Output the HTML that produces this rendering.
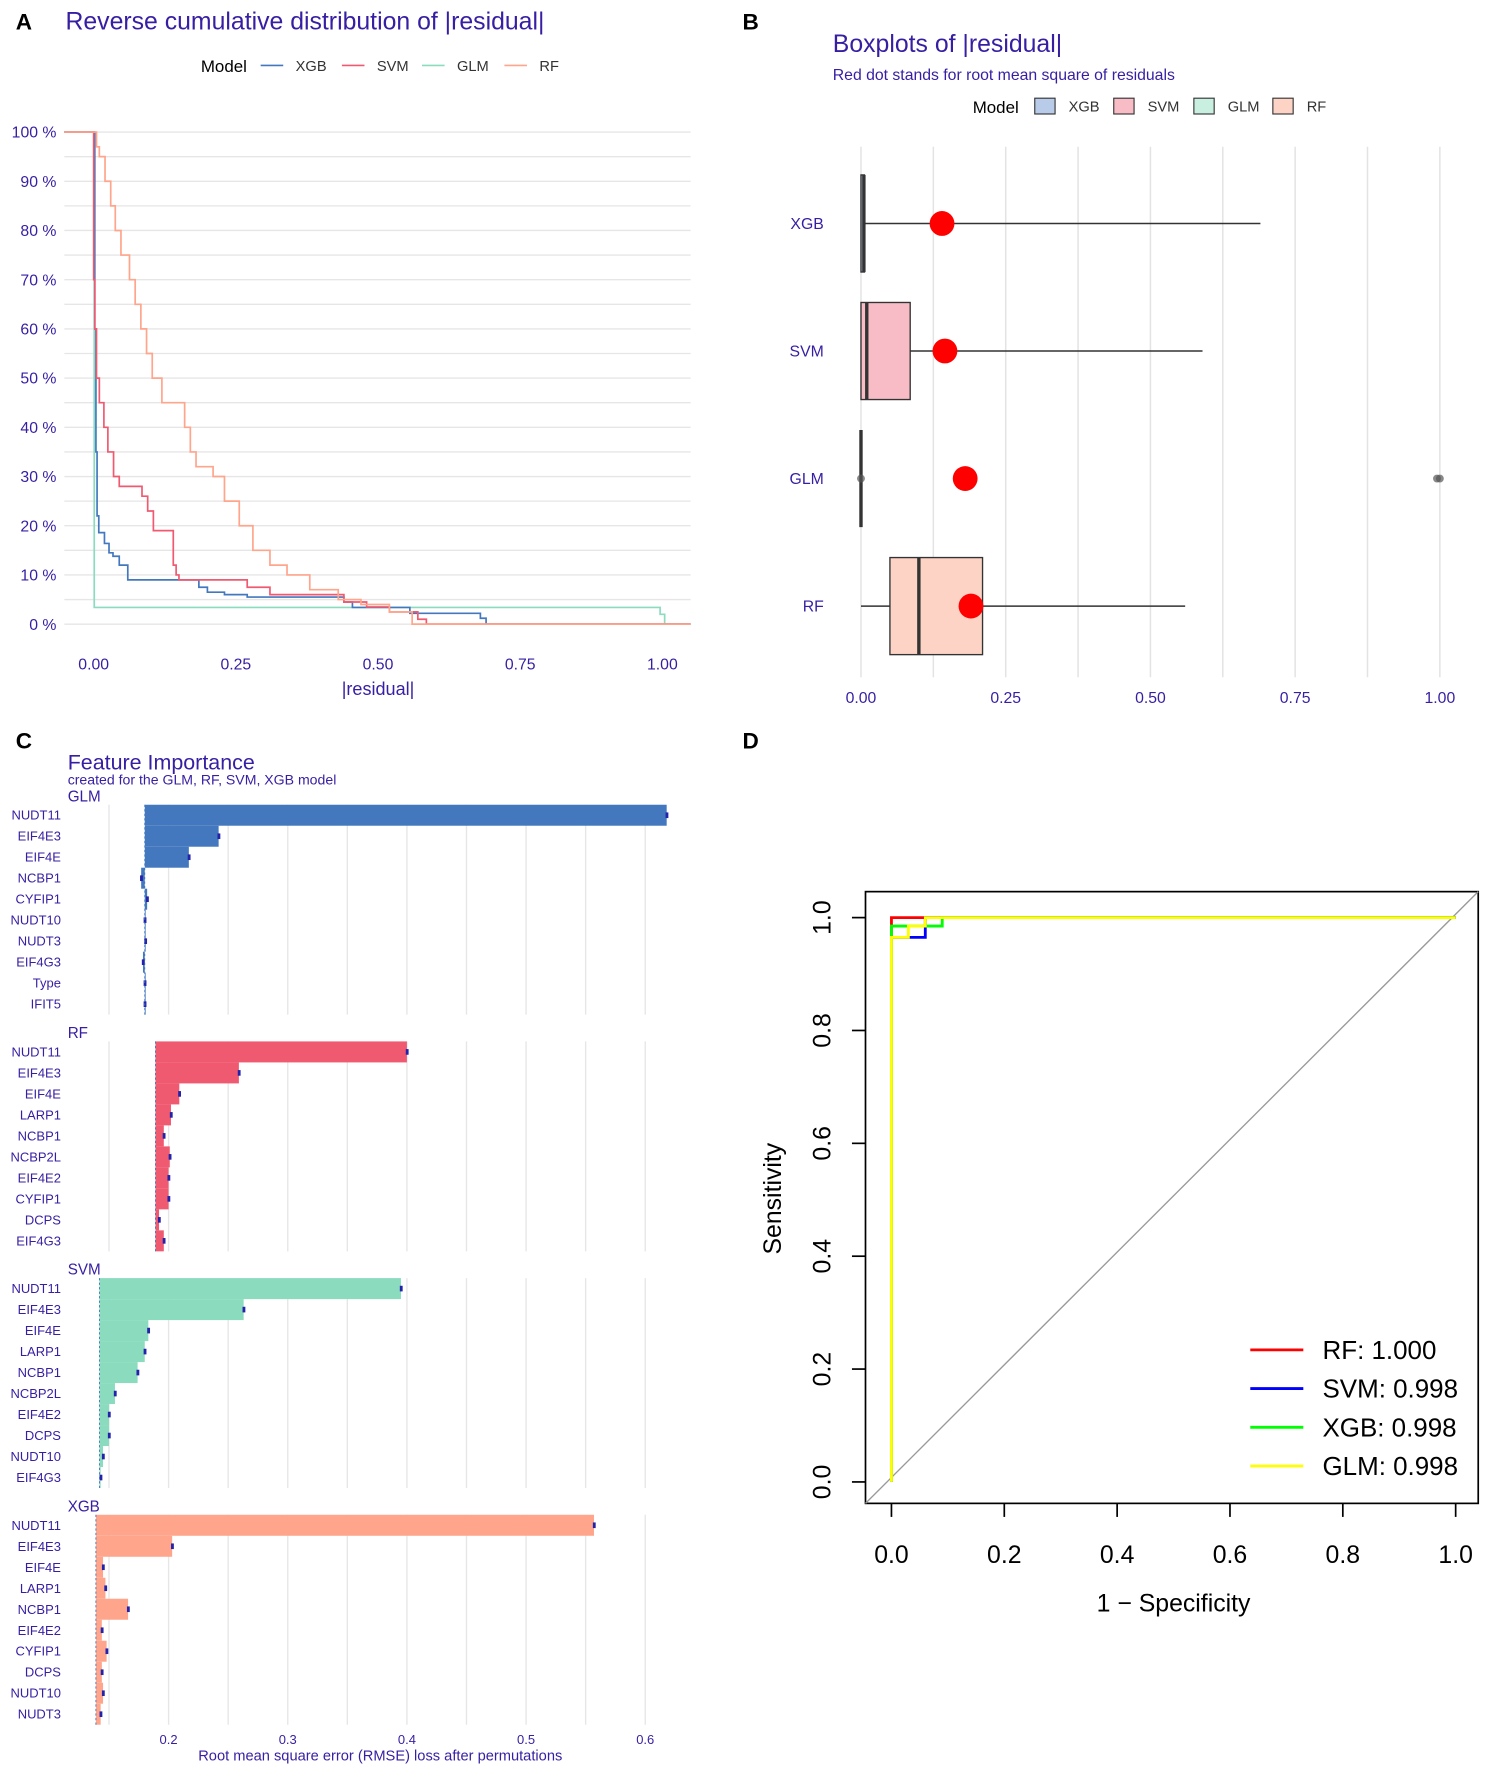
<!DOCTYPE html>
<html><head><meta charset="utf-8"><style>
html,body{margin:0;padding:0;background:#fff;}
svg{display:block;font-family:"Liberation Sans",sans-serif;}
</style></head><body>
<svg id="fig" width="1485" height="1772" viewBox="0 0 1316 1570" preserveAspectRatio="none" xmlns="http://www.w3.org/2000/svg">
<rect width="1316" height="1570" fill="#fff"/>
<g font-weight="bold" font-size="20" fill="#000">
<text x="14" y="26">A</text>
<text x="658" y="26">B</text>
<text x="14" y="663">C</text>
<text x="658" y="663">D</text>
</g>
<g id="pa"></g>
<g id="pb"></g>
<g id="pc"></g>
<g id="pd"></g>
</svg>
<script>
// ---------- data ----------
const models = ['XGB','SVM','GLM','RF'];
const modelColors = ['#4378bf','#f05a71','#8bdcbe','#ffa58c'];
// Panel A: reverse ECDF steps (x = residual breakpoint, y = percent after breakpoint)
const xgbX = [0,0.002,0.004,0.006,0.009,0.019,0.027,0.034,0.045,0.06,0.185,0.2,0.23,0.27,0.44,0.455,0.556,0.68,0.69];
const xgbY = [100,60,35,22,18.6,16.4,14.5,13.8,12,9,7.5,6.5,6,5.5,4.5,3.4,2.2,1.2,0];
const svmX = [0,0.002,0.005,0.01,0.018,0.025,0.035,0.045,0.085,0.095,0.105,0.14,0.145,0.15,0.27,0.31,0.44,0.48,0.52,0.57,0.585];
const svmY = [70,60,50,45,40,35,30,28,26,23,19,12,10,9,7.5,6,4.5,3.5,2.5,1,0];
const glmX = [0,0.001,0.996,1.004];
const glmY = [100,3.4,2,0];
const rfX = [0,0.005,0.01,0.02,0.03,0.038,0.048,0.063,0.073,0.083,0.093,0.103,0.12,0.16,0.17,0.18,0.21,0.23,0.256,0.28,0.31,0.34,0.38,0.43,0.47,0.52,0.56];
const rfY = [100,97,95,90,85,80,75,70,65,60,55,50,45,40,35,32,30,25,20,15,12,10,7,5,4,2.5,0];
const aYTicks = [0,10,20,30,40,50,60,70,80,90,100];
const aXTicks = [0,0.25,0.5,0.75,1];
// Panel B
const boxMin = [0,0,0,0];
const boxQ1 = [0,0,0,0.05];
const boxMed = [0.005,0.01,0,0.1];
const boxQ3 = [0.006,0.085,0,0.21];
const boxMax = [0.69,0.59,0,0.56];
const boxRmse = [0.14,0.145,0.18,0.19];
const glmOutliers = [0,0.995,1.0];
const bXTicks = [0,0.25,0.5,0.75,1];
// Panel C
const fiModels = ['GLM','RF','SVM','XGB'];
const fiColors = ['#4378bf','#f05a71','#8bdcbe','#ffa58c'];
const fiBaseline = [0.180,0.189,0.142,0.139];
const glmFeatures = ['NUDT11','EIF4E3','EIF4E','NCBP1','CYFIP1','NUDT10','NUDT3','EIF4G3','Type','IFIT5'];
const glmLoss = [0.618,0.242,0.217,0.177,0.182,0.180,0.1805,0.1785,0.180,0.180];
const rfFeatures = ['NUDT11','EIF4E3','EIF4E','LARP1','NCBP1','NCBP2L','EIF4E2','CYFIP1','DCPS','EIF4G3'];
const rfLoss = [0.400,0.259,0.209,0.202,0.196,0.201,0.200,0.200,0.192,0.196];
const svmFeatures = ['NUDT11','EIF4E3','EIF4E','LARP1','NCBP1','NCBP2L','EIF4E2','DCPS','NUDT10','EIF4G3'];
const svmLoss = [0.395,0.263,0.183,0.180,0.174,0.155,0.150,0.150,0.145,0.143];
const xgbFeatures = ['NUDT11','EIF4E3','EIF4E','LARP1','NCBP1','EIF4E2','CYFIP1','DCPS','NUDT10','NUDT3'];
const xgbLoss = [0.557,0.203,0.145,0.147,0.166,0.144,0.148,0.144,0.145,0.143];
const cXTicks = [0.2,0.3,0.4,0.5,0.6];
// Panel D
const rocNames = ['RF','SVM','XGB','GLM'];
const rocAuc = ['1.000','0.998','0.998','0.998'];
const rocColors = ['#ff0000','#0000ff','#00ff00','#ffff00'];
const rfFpr = [0,0,0.06,1];      const rfTpr = [0,1,1,1];
const svmFpr = [0,0,0.03,0.03,0.06,0.06,1]; const svmTpr = [0,0.965,0.965,0.965,0.965,1,1];
const xgbFpr = [0,0,0.06,0.06,0.09,0.09,1]; const xgbTpr = [0,0.985,0.985,0.985,0.985,1,1];
const glmFpr = [0,0,0.03,0.03,0.06,0.06,1]; const glmTpr = [0,0.965,0.965,0.985,0.985,1,1];
const dTicks = [0,0.2,0.4,0.6,0.8,1];

const NS='http://www.w3.org/2000/svg';
const TXT='#371ea3';
function mk(parent, tag, attrs, text){const e=document.createElementNS(NS,tag);for(const k in attrs)e.setAttribute(k,attrs[k]);if(text!==undefined)e.textContent=text;parent.appendChild(e);return e;}

// ---------- Panel A ----------
(function(){
const g=document.getElementById('pa');
const ax=v=>83+v*504, ay=v=>553-v*4.36;
for(let p=0;p<=100;p+=5){const l=mk(g,'line',{x1:57,x2:612,y1:ay(p),y2:ay(p),stroke:'#e6e6e6','stroke-width':1.2});

}
aYTicks.forEach(t=>{const e=mk(g,'text',{x:50,y:ay(t)+5,'text-anchor':'end','font-size':14,fill:TXT},t+' %');

});
aXTicks.forEach(t=>{const e=mk(g,'text',{x:ax(t),y:593,'text-anchor':'middle','font-size':14,fill:TXT},t.toFixed(2));

});
const xt=mk(g,'text',{x:335,y:616,'text-anchor':'middle','font-size':16,fill:TXT},'|residual|');


const tt=mk(g,'text',{x:58,y:26,'font-size':22,fill:TXT},'Reverse cumulative distribution of |residual|');


const series=[[xgbX,xgbY],[svmX,svmY],[glmX,glmY],[rfX,rfY]];
const order=[2,0,1,3];
order.forEach(i=>{const [X,Y]=series[i];let d='M57,'+ay(100)+' L'+ax(X[0])+','+ay(100);
for(let k=0;k<X.length;k++){d+=' L'+ax(X[k])+','+ay(Y[k]);const nx=k+1<X.length?ax(X[k+1]):612;d+=' L'+nx+','+ay(Y[k]);}
const p=mk(g,'path',{d:d,fill:'none',stroke:modelColors[i],'stroke-width':1.5});

});
const lm=mk(g,'text',{x:178,y:64,'font-size':15,fill:'#000'},'Model');


const lx=[231,303,374,447];
models.forEach((m,i)=>{const l=mk(g,'line',{x1:lx[i],x2:lx[i]+20,y1:58,y2:58,stroke:modelColors[i],'stroke-width':1.5});


const t=mk(g,'text',{x:lx[i]+31,y:63,'font-size':13,fill:'#333'},m);

});
})();

// ---------- Panel B ----------
(function(){
const g=document.getElementById('pb');
const bx=v=>763+v*513;
const rowY=[198,311,424,537];
for(let v=0;v<=1.001;v+=0.125){const l=mk(g,'line',{x1:bx(v),x2:bx(v),y1:130,y2:600,stroke:'#e3e3e3','stroke-width':1.3});

}
bXTicks.forEach(t=>{const e=mk(g,'text',{x:bx(t),y:623,'text-anchor':'middle','font-size':14,fill:TXT},t.toFixed(2));

});
const fills=['#b8cbe8','#f7bcc5','#c9efe1','#fdd3c6'];
models.forEach((m,i)=>{const y=rowY[i];
const lab=mk(g,'text',{x:730,y:y+5,'text-anchor':'end','font-size':14,fill:TXT},m);


const w=mk(g,'line',{x1:bx(boxMin[i]),x2:bx(boxMax[i]),y1:y,y2:y,stroke:'#333','stroke-width':1.3});


const bw=Math.max(bx(boxQ3[i])-bx(boxQ1[i]),0);
const r=mk(g,'rect',{x:bx(boxQ1[i]),y:y-43,width:bw,height:86,fill:fills[i],stroke:'#333','stroke-width':1.2});


const md=mk(g,'line',{x1:bx(boxMed[i]),x2:bx(boxMed[i]),y1:y-43,y2:y+43,stroke:'#333','stroke-width':3});


const c=mk(g,'circle',{cx:bx(boxRmse[i]),cy:y,r:11,fill:'#ff0000'});

});
glmOutliers.forEach(v=>{const c=mk(g,'circle',{cx:bx(v),cy:424,r:3.5,fill:'#555','fill-opacity':0.7});

});
const t1=mk(g,'text',{x:738,y:46,'font-size':22,fill:TXT},'Boxplots of |residual|');


const t2=mk(g,'text',{x:738,y:71,'font-size':14,fill:TXT},'Red dot stands for root mean square of residuals');


const lm=mk(g,'text',{x:862,y:100,'font-size':15,fill:'#000'},'Model');


const lx=[917,987,1058,1128];
models.forEach((m,i)=>{const r=mk(g,'rect',{x:lx[i],y:87,width:18,height:14,fill:fills[i],stroke:'#333','stroke-width':1});


const t=mk(g,'text',{x:lx[i]+30,y:99,'font-size':13,fill:'#333'},m);

});
})();

// ---------- Panel C ----------
(function(){
const g=document.getElementById('pc');
const cx=v=>149.4+(v-0.2)*1056;
const feats=[glmFeatures,rfFeatures,svmFeatures,xgbFeatures];
const losses=[glmLoss,rfLoss,svmLoss,xgbLoss];
const t1=mk(g,'text',{x:60,y:682,'font-size':19,fill:TXT},'Feature Importance');


const t2=mk(g,'text',{x:60,y:695,'font-size':12.5,fill:TXT},'created for the GLM, RF, SVM, XGB model');


fiModels.forEach((m,p)=>{const top=713+p*209.7;const rh=18.6;
const s=mk(g,'text',{x:60,y:top-3,'font-size':13.5,fill:TXT},m);


for(let v=0.15;v<=0.6001;v+=0.05){const l=mk(g,'line',{x1:cx(v),x2:cx(v),y1:top,y2:top+10*rh,stroke:'#e6e6e6','stroke-width':1.2});

}
feats[p].forEach((f,k)=>{const y=top+k*rh;const b=fiBaseline[p],v=losses[p][k];
const r=mk(g,'rect',{x:Math.min(cx(b),cx(v)),y:y,width:Math.max(Math.abs(cx(v)-cx(b)),0.8),height:rh,fill:fiColors[p]});


const d=mk(g,'rect',{x:cx(v)-1,y:y+rh/2-2.5,width:2.5,height:5,fill:'#2222aa'});


const t=mk(g,'text',{x:54,y:y+rh/2+4,'text-anchor':'end','font-size':11.5,fill:TXT},f);

});
const bl=mk(g,'line',{x1:cx(fiBaseline[p]),x2:cx(fiBaseline[p]),y1:top,y2:top+10*rh,stroke:'#4378bf','stroke-width':0.8,'stroke-dasharray':'2,2'});

});
cXTicks.forEach(t=>{const e=mk(g,'text',{x:cx(t),y:1545,'text-anchor':'middle','font-size':11.5,fill:TXT},String(t));

});
const xt=mk(g,'text',{x:337,y:1560,'text-anchor':'middle','font-size':13,fill:TXT},'Root mean square error (RMSE) loss after permutations');


})();

// ---------- Panel D ----------
(function(){
const g=document.getElementById('pd');
const dx=v=>790+v*500, dy=v=>1313-v*500;
const box=mk(g,'rect',{x:767,y:790,width:543,height:542,fill:'none',stroke:'#000','stroke-width':1.5});


const diag=mk(g,'line',{x1:dx(-0.046),y1:dy(-0.038),x2:dx(1.04),y2:dy(1.046),stroke:'#999','stroke-width':1.2});


dTicks.forEach(t=>{const a=mk(g,'line',{x1:dx(t),x2:dx(t),y1:1332,y2:1344,stroke:'#000','stroke-width':1.5});


const e=mk(g,'text',{x:dx(t),y:1385,'text-anchor':'middle','font-size':22,fill:'#000'},t.toFixed(1));


const b=mk(g,'line',{x1:755,x2:767,y1:dy(t),y2:dy(t),stroke:'#000','stroke-width':1.5});


const f=mk(g,'text',{x:736,y:dy(t),'text-anchor':'middle','font-size':22,fill:'#000',transform:'rotate(-90 736 '+dy(t)+')'},t.toFixed(1));

});
const xt=mk(g,'text',{x:1040,y:1428,'text-anchor':'middle','font-size':22,fill:'#000'},'1 − Specificity');


const yt=mk(g,'text',{x:692,y:1062,'text-anchor':'middle','font-size':22,fill:'#000',transform:'rotate(-90 692 1062)'},'Sensitivity');


const curves=[[rfFpr,rfTpr],[svmFpr,svmTpr],[xgbFpr,xgbTpr],[glmFpr,glmTpr]];
curves.forEach((c,i)=>{let d='';c[0].forEach((v,k)=>{d+=(k?' L':'M')+dx(v)+','+dy(c[1][k]);});
const p=mk(g,'path',{d:d,fill:'none',stroke:rocColors[i],'stroke-width':2.5});

});
rocNames.forEach((n,i)=>{const y=1196+i*34.3;
const l=mk(g,'line',{x1:1108,x2:1155,y1:y,y2:y,stroke:rocColors[i],'stroke-width':2.5});


const t=mk(g,'text',{x:1172,y:y+8,'font-size':23,fill:'#000'},n+': '+rocAuc[i]);

});
})();
</script>
</body></html>
